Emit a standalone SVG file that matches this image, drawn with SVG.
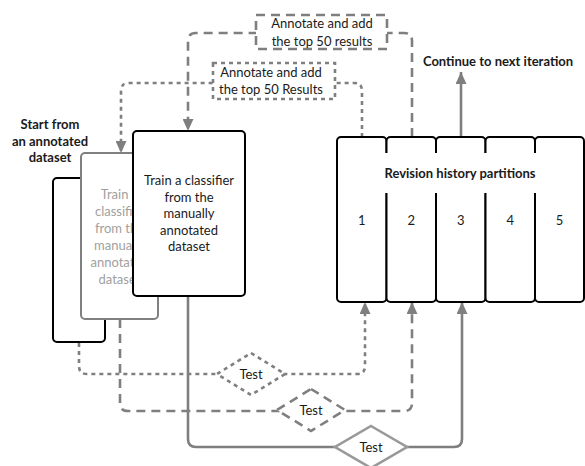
<svg xmlns="http://www.w3.org/2000/svg" width="585" height="466" viewBox="0 0 585 466">
<style>
  text { font-family: Lato, "Open Sans", "Liberation Sans", sans-serif; font-size: 13px; fill: #1a1a1a; text-anchor: middle; }
  .bold { font-weight: bold; }
  .ghost { fill: #a0a0a0; }
  .box { fill: #fff; stroke: #000; stroke-width: 2; }
  .gbox { fill: #fff; stroke: #808080; stroke-width: 2; }
  .conn { fill: none; stroke: #7f7f7f; stroke-width: 2.6; }
  .dot { stroke-dasharray: 4 4; }
  .dash { stroke-dasharray: 9 6; }
  .lbl { fill: #fff; stroke: #7f7f7f; stroke-width: 2.6; }
</style>
<defs>
  <marker id="ah" viewBox="0 0 12 11" refX="12" refY="5.5" markerWidth="12" markerHeight="11" markerUnits="userSpaceOnUse" orient="auto">
    <path d="M0,0 L12,5.5 L0,11 z" fill="#7f7f7f"/>
  </marker>
</defs>
<rect width="585" height="466" fill="#fff"/>

<g id="start-label">
  <text class="bold" x="50" y="129">Start from</text>
  <text class="bold" x="50" y="146">an annotated</text>
  <text class="bold" x="50" y="162">dataset</text>
</g>

<g id="connectors">
  <!-- top dotted: partition 1 -> middle box -->
  <path class="conn dot" d="M362,137 V91 Q362,83 354,83 H129 Q121,83 121,91 V153" marker-end="url(#ah)"/>
  <!-- top dashed: partition 2 -> front box -->
  <path class="conn dash" d="M412,137 V41 Q412,33 404,33 H196 Q188,33 188,41 V131" marker-end="url(#ah)"/>
  <!-- continue -->
  <path class="conn" d="M461,137 V72" marker-end="url(#ah)"/>
  <!-- bottom dotted -->
  <path class="conn dot" d="M79,343 V366 Q79,374 87,374 H357 Q365,374 365,366 V302" marker-end="url(#ah)"/>
  <!-- bottom dashed -->
  <path class="conn dash" d="M120,319 V403 Q120,411 128,411 H404 Q412,411 412,403 V302" marker-end="url(#ah)"/>
  <!-- bottom solid -->
  <path class="conn" d="M188,296 V439 Q188,447 196,447 H454 Q462,447 462,439 V302" marker-end="url(#ah)"/>
</g>

<g id="label-top-dashed">
  <rect class="lbl dash" x="256" y="15" width="131" height="34"/>
  <text x="322" y="28">Annotate and add</text>
  <text x="322" y="46">the top 50 results</text>
</g>
<g id="label-top-dotted">
  <rect class="lbl dot" x="213" y="63" width="122" height="36"/>
  <text x="271" y="77">Annotate and add</text>
  <text x="271" y="94">the top 50 Results</text>
</g>
<g id="label-continue">
  <text class="bold" x="498" y="66">Continue to next iteration</text>
</g>

<g id="test-dotted">
  <polygon class="lbl dot" points="251,353 285,374 251,395 217,374"/>
  <text x="251" y="379">Test</text>
</g>
<g id="test-dashed">
  <polygon class="lbl dash" points="311,389 345,410 311,431 277,410"/>
  <text x="311" y="415">Test</text>
</g>
<g id="test-solid">
  <polygon points="371,426 407,447 371,468 335,447" fill="#fff" stroke="#999" stroke-width="2.6"/>
  <text x="371" y="452">Test</text>
</g>

<g id="box-back">
  <rect class="box" x="53" y="178" width="52" height="164" rx="4"/>
</g>
<g id="box-middle">
  <rect class="gbox" x="81" y="153" width="77" height="166" rx="4"/>
  <text class="ghost" x="119.5" y="198.5">Train a</text>
  <text class="ghost" x="119.5" y="215.5">classifier</text>
  <text class="ghost" x="119.5" y="232.5">from the</text>
  <text class="ghost" x="119.5" y="249.5">manually</text>
  <text class="ghost" x="119.5" y="266.5">annotated</text>
  <text class="ghost" x="119.5" y="283.5">dataset</text>
</g>
<g id="box-front">
  <rect class="box" x="133" y="131" width="112" height="165" rx="4"/>
  <text x="189" y="184.5">Train a classifier</text>
  <text x="189" y="201.5">from the</text>
  <text x="189" y="218">manually</text>
  <text x="189" y="234.5">annotated</text>
  <text x="189" y="251">dataset</text>
</g>

<g id="partitions">
  <rect class="box" x="337" y="137" width="49.5" height="165" rx="4"/>
  <rect class="box" x="386.5" y="137" width="49.5" height="165" rx="4"/>
  <rect class="box" x="436" y="137" width="49.5" height="165" rx="4"/>
  <rect class="box" x="485.5" y="137" width="49.5" height="165" rx="4"/>
  <rect class="box" x="535" y="137" width="49" height="165" rx="4"/>
  <rect x="380" y="153" width="160" height="40" fill="#fff"/>
  <text class="bold" x="460" y="178">Revision history partitions</text>
  <text x="361.75" y="225">1</text>
  <text x="411.25" y="225">2</text>
  <text x="460.75" y="225">3</text>
  <text x="510.25" y="225">4</text>
  <text x="559.5" y="225">5</text>
</g>
</svg>
